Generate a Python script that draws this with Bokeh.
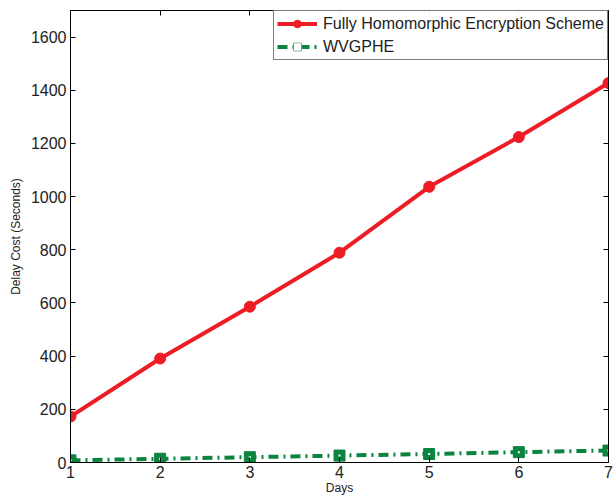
from bokeh.plotting import figure
from bokeh.models import Range1d, Legend, LegendItem, FixedTicker, LinearAxis
from bokeh.embed import file_html
from bokeh.resources import INLINE

days = [1, 2, 3, 4, 5, 6, 7]
fhe = [173, 391, 586, 789, 1037, 1224, 1427]
wvgphe = [8, 14, 20, 26, 32, 39, 45]
y_ticks = [0, 200, 400, 600, 800, 1000, 1200, 1400, 1600]

RED = "#EE1C25"
GREEN = "#0B8440"
FONT = "Liberation Sans"

p = figure(width=614, height=498, output_backend="svg", toolbar_location=None,
           x_range=Range1d(1, 7), y_range=Range1d(0, 1700),
           min_border_left=70, min_border_right=6, min_border_top=10, min_border_bottom=36)
p.grid.visible = False
p.outline_line_color = "black"
p.outline_line_width = 1

r1 = p.line(days, fhe, line_color=RED, line_width=4)
m1 = p.scatter(days, fhe, marker="circle", size=11, fill_color=RED, line_color=RED)
r2 = p.line(days, wvgphe, line_color=GREEN, line_width=4, line_dash="10 5 2 5")
m2 = p.scatter(days, wvgphe, marker="square", size=11, fill_color=GREEN, line_color=GREEN)
m2c = p.scatter(days, wvgphe, marker="square", size=2, fill_color="white", line_color=None)

for ax in [p.xaxis[0], p.yaxis[0]]:
    ax.major_tick_in = 5
    ax.major_tick_out = 0
    ax.minor_tick_line_color = None
    ax.axis_line_color = "black"
    ax.major_label_text_font = FONT
    ax.major_label_text_font_size = "16px"
    ax.major_label_text_color = "#222222"
    ax.axis_label_text_font = FONT
    ax.axis_label_text_font_size = "12px"
    ax.axis_label_text_font_style = "normal"
    ax.axis_label_text_color = "#222222"

p.xaxis[0].ticker = FixedTicker(ticks=days)
p.yaxis[0].ticker = FixedTicker(ticks=y_ticks)
p.xaxis[0].axis_label = "Days"
p.yaxis[0].axis_label = "Delay Cost (Seconds)"
p.xaxis[0].major_label_standoff = 3
p.xaxis[0].axis_label_standoff = 0
p.yaxis[0].major_label_standoff = 4
p.yaxis[0].axis_label_standoff = 5

top_ax = LinearAxis(ticker=FixedTicker(ticks=days),
                    major_label_overrides={t: "" for t in days})
right_ax = LinearAxis(ticker=FixedTicker(ticks=y_ticks),
                      major_label_overrides={t: "" for t in y_ticks})
for ax in [top_ax, right_ax]:
    ax.major_tick_in = 5
    ax.major_tick_out = 0
    ax.minor_tick_line_color = None
    ax.axis_line_color = "black"
    ax.major_label_text_font_size = "1px"
    ax.major_label_standoff = 0
p.add_layout(top_ax, "above")
p.add_layout(right_ax, "right")

legend = Legend(items=[
    LegendItem(label="Fully Homomorphic Encryption Scheme", renderers=[r1, m1]),
    LegendItem(label="WVGPHE", renderers=[r2, m2, m2c]),
], location="top_right")
legend.label_text_font = FONT
legend.label_text_font_size = "16px"
legend.label_text_color = "#222222"
legend.border_line_color = "black"
legend.border_line_width = 1
legend.glyph_width = 40
legend.glyph_height = 19
legend.label_height = 19
legend.spacing = 4
legend.padding = 3
legend.margin = 0
legend.label_standoff = 6
p.add_layout(legend)

out = file_html(p, INLINE)
open("out.html", "w").write(out)
